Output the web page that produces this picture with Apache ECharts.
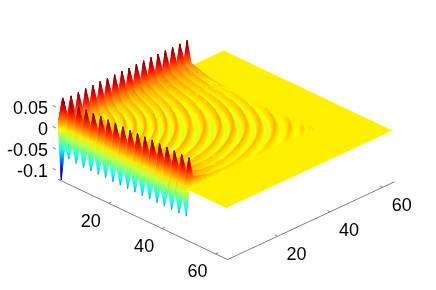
<!DOCTYPE html>
<html><head><meta charset="utf-8">
<style>html,body{margin:0;padding:0;background:#fff}#c{width:436px;height:290px}</style>
<script src="https://cdn.jsdelivr.net/npm/echarts@6/dist/echarts.min.js"></script>
</head><body><div id="c"></div>
<script>
// Heights (in thousandths) read from the picture along each wave ring,
// walking from the square's edge towards its diagonal.
const cornerZ = [12,12,12,12,12,12,12,12,12,12,12];
const crestZ = [
 [-120,70,70,68,66,64,62,60,58,56,55],
 [-62,68,40,32,28,27,27,27,27,27,27],
 [-64,68,33,23,19,18,18,19,20,21,21],
 [-65,69,30,19,15,14,14,15,17,18,18],
 [-65,69,28,17,13,12,12,13,15,16,16],
 [-65,70,28,16,12,11,12,13,14,15,15],
 [-65,70,28,16,12,11,12,13,14,15,15],
 [-66,70,28,15,12,11,12,13,14,14,14],
 [-66,70,28,15,12,11,12,13,14,14,14],
 [-66,70,27,15,12,11,12,13,14,14,14],
 [-66,71,27,15,11,11,12,13,14,14,14],
 [-66,71,27,15,11,11,12,13,14,14,14],
 [-66,71,27,15,11,11,12,13,13,13,13],
 [-66,71,27,15,11,10,11,12,13,13,13],
 [-66,71,27,15,11,10,11,12,13,13,13],
 [-66,71,26,14,10,9,10,12,13,13,13],
 [-66,71,25,13,9,8,9,11,12,12,12],
 [-65,71,22,11,7,6,7,9,11,12,12],
 [0,0,0,0,0,0,0,6,9,11,12],
 [0,0,0,0,0,0,0,0,4,9,11],
 [0,0,0,0,0,0,0,0,0,2,8],
 [0,0,0,0,0,0,0,0,0,0,5]
];
const troughZ = [
 [-34,25,20,15,12,10,8,6,5,5,5],
 [-30,15,10,5,3,1,0,0,0,0,0],
 [-28,14,8,2,-1,-2,-3,-4,-5,-5,-5],
 [-27,13,6,0,-2,-4,-5,-6,-7,-8,-8],
 [-27,12,5,-1,-3,-5,-6,-8,-9,-10,-10],
 [-27,12,5,-1,-3,-5,-7,-9,-10,-11,-11],
 [-27,12,5,-1,-4,-6,-7,-9,-11,-11,-11],
 [-27,12,4,-2,-4,-6,-8,-10,-11,-12,-12],
 [-27,12,4,-2,-4,-6,-8,-10,-11,-12,-12],
 [-27,12,4,-2,-4,-6,-8,-10,-11,-12,-12],
 [-27,12,4,-2,-4,-6,-8,-10,-11,-12,-12],
 [-27,12,4,-2,-4,-6,-8,-10,-11,-12,-12],
 [-27,12,4,-2,-4,-6,-8,-10,-11,-12,-12],
 [-27,12,4,-2,-4,-6,-8,-10,-11,-12,-12],
 [-27,11,3,-1,-3,-5,-7,-9,-11,-11,-11],
 [-27,10,3,0,-2,-4,-6,-8,-10,-10,-10],
 [-27,8,2,0,-1,-3,-5,-7,-9,-9,-9],
 [0,0,0,0,0,0,-2,-5,-9,-10,-10],
 [0,0,0,0,0,0,0,0,-5,-8,-9],
 [0,0,0,0,0,0,0,0,0,-4,-7],
 [0,0,0,0,0,0,0,0,0,0,-3],
 [0,0,0,0,0,0,0,0,0,0,0]
];
// Where each ring meets the edge and crosses the diagonal, in axis units from the corner.
const crestEdge = [1.2,4.05,6.8,9.55,12.3,15.05,17.8,20.55,23.3,26.05,28.8,31.55,34.3,37.05,39.8,42.55,45.3,48.05,50.8,53.5,56.3,59];
const crestDiag = [1,2.9,4.8,6.8,8.7,10.7,12.6,14.6,16.5,18.5,20.4,22.3,24.9,27.7,30.6,33,35.6,38.1,40.9,43.8,46.2,48.1];
const troughEdge = [2.6,5.4,8.2,10.9,13.7,16.4,19.2,21.9,24.7,27.4,30.2,32.9,35.7,38.4,41.2,43.9,46.7,49.4,52.2,54.9,57.6,60];
const troughDiag = [1.9,3.85,5.8,7.75,9.7,11.65,13.6,15.55,17.5,19.45,21.35,23.6,26.3,29.15,31.8,34.3,36.85,39.5,42.35,45,47.15,48.3];
const ringFractions = [0.15,0.3,0.45,0.6,0.75,0.87,0.95,1];
const waveLimit = 48.2;
const gridSpan = 63;
const axisSpan = 63.5;
const axisZ = -0.122;
const xTicks = [20,40,60];
const yTicks = [20,40,60];
const zTicks = [0.05,0,-0.05,-0.1];
const zTickText = ['0.05','0','-0.05','-0.1'];
const colorMin = -0.12, colorMax = 0.0675;

function jet(z){
  const t=Math.max(0,Math.min(1,(z-colorMin)/(colorMax-colorMin)));
  const c=v=>Math.round(255*Math.max(0,Math.min(1,1.5-Math.abs(4*t-v))));
  return 'rgb('+c(3)+','+c(2)+','+c(1)+')';
}
function project(X,Y,z){ return [58+2.67*X+2.63*Y, 128+1.265*X-1.225*Y-420*z]; }

// assemble the rows: corner, then crest / trough alternating
const rows=[{E:0.1,a:0.08,z:cornerZ}];
crestZ.forEach((z,i)=>{
  rows.push({E:crestEdge[i],a:crestDiag[i],z:z});
  rows.push({E:troughEdge[i],a:troughDiag[i],z:troughZ[i]});
});
const verts=rows.map(r=>{
  const p=Math.log(2)/Math.log(r.E/r.a);
  const y1=Math.min(1,0.6*r.a), y2=Math.min(2.5,0.8*r.a);
  const ys=[0,y1,y2].concat(ringFractions.map(f=>y2+(r.a-y2)*f));
  return ys.map((y,c)=>{
    const px=Math.pow(Math.max(0,Math.pow(r.E,p)-Math.pow(y,p)),1/p);
    return [Math.min(waveLimit,px),Math.min(waveLimit,y),r.z[c]/1000];
  });
});
const tris=[];
function add(a,b,c,swap){
  const t=[a,b,c].map(v=>swap?[v[1],v[0],v[2]]:v);
  tris.push({pts:t,d:(t[0][0]+t[1][0]+t[2][0]-t[0][1]-t[1][1]-t[2][1])});
}
[false,true].forEach(sw=>{
  for(let i=0;i<verts.length-1;i++)for(let c=0;c<verts[i].length-1;c++){
    const A=verts[i][c],B=verts[i][c+1],C=verts[i+1][c+1],D=verts[i+1][c];
    add(A,B,C,sw);add(A,C,D,sw);
  }
});
tris.sort((p,q)=>p.d-q.d);

function fillFor(P,Z){
  const lo=Math.min(Z[0],Z[1],Z[2]),hi=Math.max(Z[0],Z[1],Z[2]);
  const d1=[P[1][0]-P[0][0],P[1][1]-P[0][1]],d2=[P[2][0]-P[0][0],P[2][1]-P[0][1]];
  const det=d1[0]*d2[1]-d1[1]*d2[0];
  const mean=(Z[0]+Z[1]+Z[2])/3;
  if(hi-lo<1e-6||Math.abs(det)<1.5) return jet(mean);
  const dz1=Z[1]-Z[0],dz2=Z[2]-Z[0];
  const gx=(dz1*d2[1]-dz2*d1[1])/det,gy=(d1[0]*dz2-d2[0]*dz1)/det,g2=gx*gx+gy*gy;
  if(g2<1e-14) return jet(mean);
  const s=(lo-Z[0])/g2,e=(hi-Z[0])/g2,stops=[];
  for(let i=0;i<=8;i++) stops.push({offset:i/8,color:jet(lo+(hi-lo)*i/8)});
  return new echarts.graphic.LinearGradient(P[0][0]+gx*s,P[0][1]+gy*s,P[0][0]+gx*e,P[0][1]+gy*e,stops,true);
}

const chart=echarts.init(document.getElementById('c'),null,{renderer:'canvas'});
const grey='#7f7f7f';
const font={fill:'#000',fontSize:18,fontFamily:'"Liberation Sans",Arial,sans-serif'};
const tickItems=[]
  .concat(xTicks.map(v=>({a:project(v-1,0,axisZ),b:project(v-1,1,axisZ)})))
  .concat(yTicks.map(v=>({a:project(axisSpan,v-1,axisZ),b:project(axisSpan-1,v-1,axisZ)})))
  .concat(zTicks.map(v=>({a:project(-2,0,v-0.0024),b:project(-0.8,0,v-0.0024)})));
const labelItems=[]
  .concat(xTicks.map(v=>{const p=project(v-1,0,axisZ);return {p:[p[0]-18,p[1]+18.5],t:String(v),align:'center'};}))
  .concat(yTicks.map(v=>{const p=project(axisSpan,v-1,axisZ);return {p:[p[0]+19,p[1]+19],t:String(v),align:'center'};}))
  .concat(zTicks.map((v,i)=>{const p=project(0,0,v-0.0024);return {p:[48,p[1]+1],t:zTickText[i],align:'right'};}));

chart.setOption({
  animation:false,
  grid:{left:0,right:0,top:0,bottom:0},
  xAxis:{type:'value',min:0,max:436,show:false},
  yAxis:{type:'value',min:0,max:290,inverse:true,show:false},
  series:[
    {type:'custom',coordinateSystem:'cartesian2d',silent:true,clip:false,progressive:0,z:1,
     data:[[0]],
     renderItem:function(params,api){
       const pts=[[0,0],[gridSpan,0],[gridSpan,gridSpan],[0,gridSpan]].map(q=>api.coord(project(q[0],q[1],0)));
       return {type:'polygon',shape:{points:pts},style:{fill:jet(0),stroke:jet(0),lineWidth:0.5}};
     }},
    {type:'line',silent:true,showSymbol:false,z:2,lineStyle:{color:grey,width:1},
     data:[project(0,0,axisZ),project(axisSpan,0,axisZ),project(axisSpan,axisSpan,axisZ)]},
    {type:'custom',coordinateSystem:'cartesian2d',silent:true,clip:false,progressive:0,z:3,
     data:tris.map((t,i)=>[i]),
     renderItem:function(params,api){
       const t=tris[params.dataIndex];
       const P=t.pts.map(v=>api.coord(project(v[0],v[1],v[2])));
       const f=fillFor(P,t.pts.map(v=>v[2]));
       return {type:'polygon',shape:{points:P},style:{fill:f,stroke:f,lineWidth:0.5}};
     }},
    {type:'custom',coordinateSystem:'cartesian2d',silent:true,clip:false,progressive:0,z:4,
     data:tickItems.map((t,i)=>[i]),
     renderItem:function(params,api){
       const t=tickItems[params.dataIndex];
       const a=api.coord(t.a),b=api.coord(t.b);
       return {type:'line',shape:{x1:a[0],y1:a[1],x2:b[0],y2:b[1]},style:{stroke:grey,lineWidth:1}};
     }},
    {type:'custom',coordinateSystem:'cartesian2d',silent:true,clip:false,progressive:0,z:5,
     data:labelItems.map((t,i)=>[i]),
     renderItem:function(params,api){
       const t=labelItems[params.dataIndex];
       const p=api.coord(t.p);
       return {type:'text',style:Object.assign({text:t.t,x:p[0],y:p[1],align:t.align,verticalAlign:'middle'},font)};
     }}
  ]
});
</script></body></html>
